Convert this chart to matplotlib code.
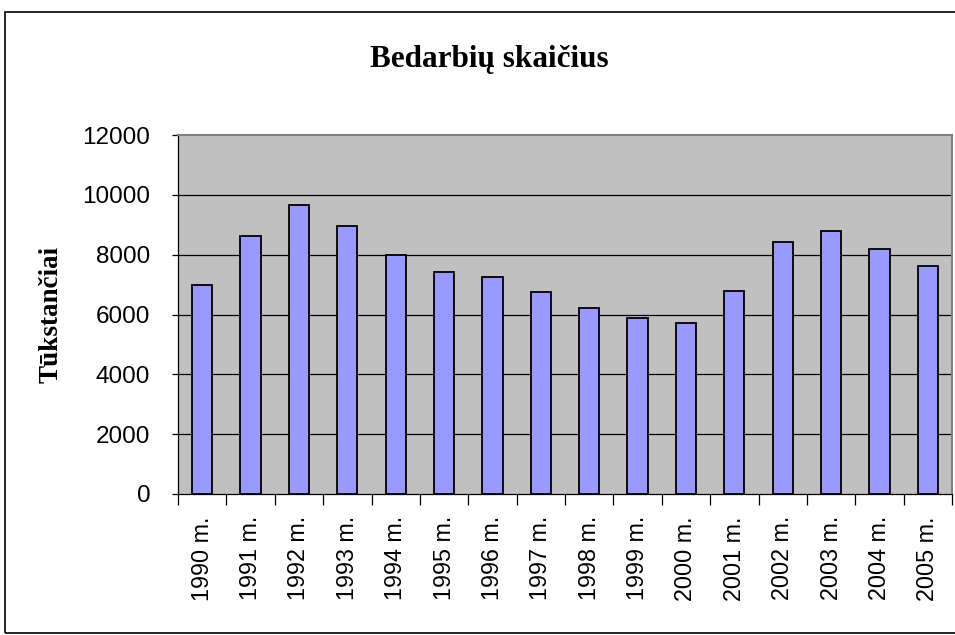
import numpy as np
import matplotlib.pyplot as plt
from matplotlib.patches import Rectangle

# Bedarbių skaičius pagal metus
years = ['1990 m.', '1991 m.', '1992 m.', '1993 m.', '1994 m.', '1995 m.',
         '1996 m.', '1997 m.', '1998 m.', '1999 m.', '2000 m.', '2001 m.',
         '2002 m.', '2003 m.', '2004 m.', '2005 m.']
values = [7000, 8630, 9650, 8970, 8000, 7430, 7270, 6740,
          6210, 5880, 5720, 6780, 8410, 8800, 8180, 7610]
y_ticks = [0, 2000, 4000, 6000, 8000, 10000, 12000]

fig = plt.figure(figsize=(9.55, 6.35), dpi=100)
fig.patch.set_facecolor('white')

# outer chart border
fig.patches.append(Rectangle((5 / 955, 2 / 635), 960 / 955, 621 / 635,
                             transform=fig.transFigure, fill=False,
                             edgecolor='black', linewidth=1.2))

ax = fig.add_axes([178 / 955, 1 - 494 / 635, 774 / 955, 359 / 635])
ax.set_facecolor('#C0C0C0')

x = np.arange(len(years))
ax.bar(x, values, width=0.42, color='#9999FF', edgecolor='black',
       linewidth=1.3, zorder=3)

ax.set_xlim(-0.5, len(years) - 0.5)
ax.set_ylim(0, 12000)
ax.set_yticks(y_ticks)
ax.set_yticklabels([str(v) for v in y_ticks], fontsize=17.5,
                   family='Liberation Sans')
for v in y_ticks[1:-1]:
    ax.axhline(v, color='black', linewidth=0.9, zorder=1)

ax.set_xticks(x)
ax.set_xticklabels(years, rotation=90, fontsize=16.8, family='Liberation Sans')
ax.tick_params(axis='x', which='major', length=0, pad=16)
ax.set_xticks(np.arange(-0.5, len(years)), minor=True)
ax.tick_params(axis='x', which='minor', length=8, width=0.9, direction='out')
ax.tick_params(axis='y', length=4.5, width=0.9, direction='out', pad=15.5)

for side in ['top', 'right']:
    ax.spines[side].set_color('#808080')
    ax.spines[side].set_linewidth(1.5)
ax.spines['left'].set_linewidth(0.9)
ax.spines['bottom'].set_linewidth(0.9)

ax.set_ylabel('Tūkstančiai', fontsize=19.5, fontweight='bold',
              family='Liberation Serif', labelpad=13.5)

fig.text(489 / 955, 1 - 60 / 635, 'Bedarbių skaičius', ha='center',
         va='center', fontsize=22.5, fontweight='bold',
         family='Liberation Serif')

fig.savefig('out.png', dpi=100)
